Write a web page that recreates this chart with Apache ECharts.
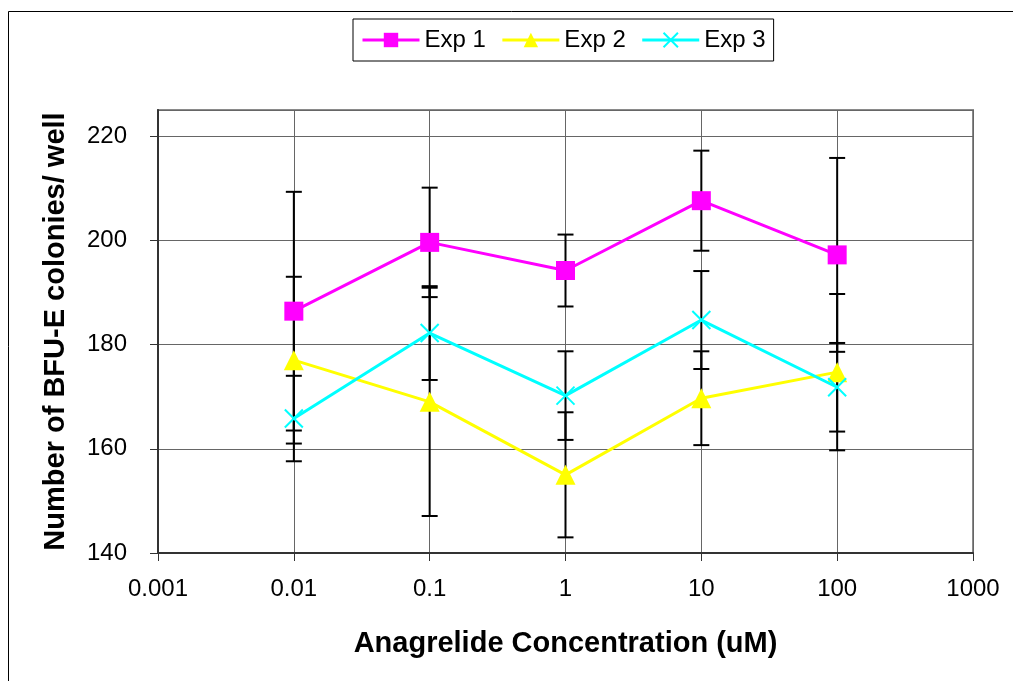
<!DOCTYPE html>
<html>
<head>
<meta charset="utf-8">
<script src="https://cdn.jsdelivr.net/npm/echarts@6/dist/echarts.min.js"></script>
<style>
  html, body { margin: 0; padding: 0; background: #fff; }
  #chart { width: 1013px; height: 681px; }
</style>
</head>
<body>
<div id="chart"></div>
<script>
// Anagrelide concentrations (uM)
var concentrations = [0.01, 0.1, 1, 10, 100];

// Mean BFU-E colonies per well and error half-widths for each experiment
var exp1 = [186.4, 199.6, 194.2, 207.6, 197.2];
var exp1Err = [22.9, 10.5, 6.9, 9.6, 18.6];
var exp2 = [177.0, 169.0, 155.0, 169.7, 174.7];
var exp2Err = [16.0, 21.9, 12.0, 9.0, 15.0];
var exp3 = [165.8, 182.2, 170.2, 184.7, 171.8];
var exp3Err = [8.2, 9.0, 8.5, 9.4, 8.5];

var seriesNames = ['Exp 1', 'Exp 2', 'Exp 3'];
var yTicks = [140, 160, 180, 200, 220];

var FONT = 'Liberation Sans, Arial, sans-serif';

function points(vals) {
  return concentrations.map(function (c, i) { return [c, vals[i]]; });
}
function errorData(vals, errs) {
  return concentrations.map(function (c, i) { return [c, vals[i] - errs[i], vals[i] + errs[i]]; });
}

function renderErrorBar(params, api) {
  var x = api.value(0);
  var lo = api.coord([x, api.value(1)]);
  var hi = api.coord([x, api.value(2)]);
  var cap = 8;
  var style = { stroke: '#000', lineWidth: 2 };
  return {
    type: 'group',
    children: [
      { type: 'line', shape: { x1: lo[0], y1: lo[1], x2: hi[0], y2: hi[1] }, style: style },
      { type: 'line', shape: { x1: hi[0] - cap, y1: hi[1], x2: hi[0] + cap, y2: hi[1] }, style: style },
      { type: 'line', shape: { x1: lo[0] - cap, y1: lo[1], x2: lo[0] + cap, y2: lo[1] }, style: style }
    ]
  };
}

function errorSeries(vals, errs) {
  return {
    type: 'custom',
    renderItem: renderErrorBar,
    data: errorData(vals, errs),
    encode: { x: 0, y: [1, 2] },
    silent: true,
    z: 1
  };
}

function fmtLog(v) {
  return String(Number(v.toPrecision(6)));
}

var chart = echarts.init(document.getElementById('chart'), null, { renderer: 'canvas' });

chart.setOption({
  animation: false,
  backgroundColor: '#fff',
  graphic: [{
    type: 'rect',
    shape: { x: 8.5, y: 11.5, width: 1100, height: 800 },
    style: { fill: 'none', stroke: '#000', lineWidth: 1 },
    silent: true,
    z: -10
  }],
  legend: {
    data: seriesNames,
    left: 353,
    top: 19,
    padding: [9, 8, 9, 8],
    itemGap: 15,
    itemWidth: 57,
    itemHeight: 18,
    borderColor: '#000',
    borderWidth: 1,
    lineStyle: { width: 3 },
    textStyle: { fontFamily: FONT, fontSize: 24, color: '#000' }
  },
  grid: {
    left: 158,
    right: 40,
    top: 110,
    bottom: 128,
    show: true,
    borderColor: '#8a8a8a',
    borderWidth: 2
  },
  xAxis: {
    type: 'log',
    logBase: 10,
    min: 0.001,
    max: 1000,
    name: 'Anagrelide Concentration (uM)',
    nameLocation: 'middle',
    nameGap: 76,
    nameTextStyle: { fontFamily: FONT, fontSize: 29, fontWeight: 'bold', color: '#000' },
    axisLine: { lineStyle: { color: '#333', width: 2 } },
    axisTick: { show: true, inside: false, length: 8, lineStyle: { color: '#333', width: 1 } },
    axisLabel: { fontFamily: FONT, fontSize: 24, color: '#000', margin: 24, formatter: fmtLog },
    splitLine: { show: true, lineStyle: { color: '#666', width: 1 } },
    minorTick: { show: false }
  },
  yAxis: {
    type: 'value',
    min: yTicks[0],
    max: 225,
    interval: 20,
    name: 'Number of BFU-E colonies/ well',
    nameLocation: 'middle',
    nameGap: 88,
    nameTextStyle: { fontFamily: FONT, fontSize: 29, fontWeight: 'bold', color: '#000' },
    axisLine: { show: true, lineStyle: { color: '#333', width: 2 } },
    axisTick: { show: true, inside: false, length: 8, lineStyle: { color: '#333', width: 1 } },
    axisLabel: {
      fontFamily: FONT, fontSize: 24, color: '#000', margin: 31,
      showMaxLabel: false,
      formatter: function (v) { return yTicks.indexOf(v) >= 0 ? String(v) : ''; }
    },
    splitLine: { show: true, lineStyle: { color: '#666', width: 1 } }
  },
  series: [
    errorSeries(exp1, exp1Err),
    errorSeries(exp2, exp2Err),
    errorSeries(exp3, exp3Err),
    {
      name: seriesNames[0],
      type: 'line',
      data: points(exp1),
      symbol: 'rect',
      symbolSize: 19,
      lineStyle: { color: '#ff00ff', width: 3 },
      itemStyle: { color: '#ff00ff' },
      z: 3
    },
    {
      name: seriesNames[1],
      type: 'line',
      data: points(exp2),
      symbol: 'triangle',
      symbolSize: 20,
      lineStyle: { color: '#ffff00', width: 3 },
      itemStyle: { color: '#ffff00' },
      z: 4
    },
    {
      name: seriesNames[2],
      type: 'line',
      data: points(exp3),
      symbol: 'path://M0,0L10,10M10,0L0,10',
      symbolSize: 18,
      lineStyle: { color: '#00ffff', width: 3 },
      itemStyle: { color: '#00ffff', borderColor: '#00ffff', borderWidth: 2 },
      z: 5
    }
  ]
});
</script>
</body>
</html>
